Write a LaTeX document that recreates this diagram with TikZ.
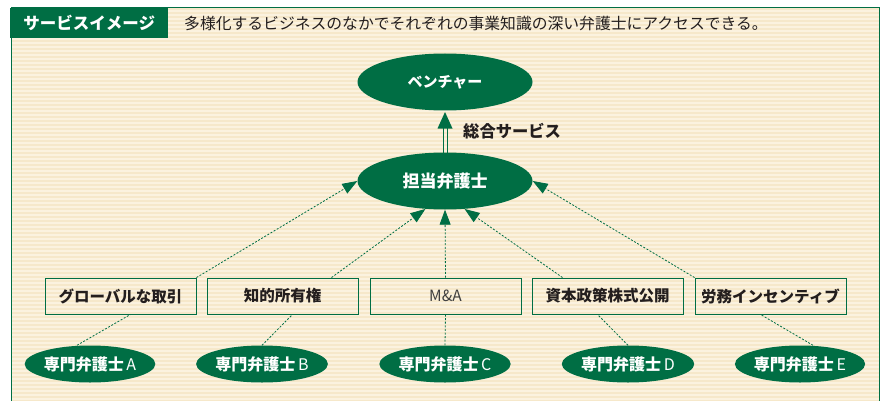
\documentclass[tikz,border=0pt]{standalone}
\usepackage{fontspec}
\setmainfont{Noto Sans CJK JP}
\usetikzlibrary{arrows.meta,shapes.geometric}
\definecolor{mygreen}{RGB}{0,110,68}
\definecolor{cream}{RGB}{246,232,202}
\definecolor{stripe}{RGB}{255,250,238}
\definecolor{txt}{RGB}{35,30,30}
\tikzset{
  bigell/.style={ellipse,fill=mygreen,text=white,minimum width=175pt,minimum height=57pt,inner sep=0pt,font=\fontsize{16}{16}\selectfont\bfseries},
  smallell/.style={ellipse,fill=mygreen,text=white,minimum width=114pt,minimum height=37pt,inner sep=0pt,font=\fontsize{16}{16}\selectfont},
  topicbox/.style={draw=mygreen,line width=0.9pt,minimum width=151pt,minimum height=36pt,inner sep=0pt,text=txt,font=\fontsize{15.5}{15.5}\selectfont\bfseries},
  dashconn/.style={mygreen,line width=0.8pt,dash pattern=on 2pt off 1.6pt},
  dasharrow/.style={dashconn,-{Triangle[length=15pt,width=11pt]}},
}
\begin{document}
\begin{tikzpicture}[x=1pt,y=-1pt]
\useasboundingbox (0,0) rectangle (885,401);
% background
\fill[cream] (11,8) rectangle (879,401);
\foreach \yy in {10,14,...,400} {\fill[stripe,opacity=0.6] (11,\yy) rectangle (879,\yy+1.8);}
\draw[mygreen,line width=1pt] (11,405) -- (11,8) -- (879,8) -- (879,405);
% header
\node[fill=mygreen,text=white,minimum width=158pt,minimum height=30pt,inner sep=0pt,anchor=north west,font=\fontsize{16.5}{16.5}\selectfont\bfseries] (hdr) at (10,8) {サービスイメージ};
\node[anchor=west,text=txt,inner sep=0pt,font=\fontsize{15.8}{15.8}\selectfont] (htext) at (184,23) {多様化するビジネスのなかでそれぞれの事業知識の深い弁護士にアクセスできる。};
% main ellipses
\node[bigell,font=\fontsize{15}{15}\selectfont\bfseries] (venture) at (445,82) {ベンチャー};
\node[bigell,font=\fontsize{17}{17}\selectfont\bfseries] (tanto) at (445,181) {担当弁護士};
% double arrow
\draw[mygreen,line width=0.8pt] (443,153) -- (443,127) (447,153) -- (447,127);
\fill[mygreen] (445,112) -- (452.5,128.5) -- (437.5,128.5) -- cycle;
\node[anchor=west,text=txt,inner sep=0pt,font=\fontsize{16.3}{16.3}\selectfont\bfseries] (sogo) at (463,131) {総合サービス};
% topic boxes
\node[topicbox] (b1) at (120.5,296) {グローバルな取引};
\node[topicbox] (b2) at (282.5,296) {知的所有権};
\node[topicbox,font=\fontsize{15.5}{15.5}\selectfont,text=black!75] (b3) at (445.5,296) {M\&A};
\node[topicbox] (b4) at (607.5,296) {資本政策株式公開};
\node[topicbox] (b5) at (770.5,296) {労務インセンティブ};
% specialists
\node[smallell] (sA) at (90,364) {\textbf{専門弁護士}\,A};
\node[smallell] (sB) at (262,364) {\textbf{専門弁護士}\,B};
\node[smallell] (sC) at (445,364) {\textbf{専門弁護士}\,C};
\node[smallell] (sD) at (628,364) {\textbf{専門弁護士}\,D};
\node[smallell] (sE) at (800,364) {\textbf{専門弁護士}\,E};
% arrows to tanto
\draw[dasharrow] (b1.north east) -- (tanto.180);
\draw[dasharrow] ([xshift=49pt]b2.north) -- (tanto.235);
\draw[dasharrow] (b3.north) -- (tanto.south);
\draw[dasharrow] ([xshift=-45pt]b4.north) -- (tanto.305);
\draw[dasharrow] (b5.north west) -- (tanto.0);
% lines specialists to boxes
\draw[dashconn] ([xshift=-13pt]sA.north) -- ([xshift=10pt]b1.south);
\draw[dashconn] (sB.north) -- ([xshift=10pt]b2.south);
\draw[dashconn] (sC.north) -- (b3.south);
\draw[dashconn] (sD.north) -- ([xshift=-10pt]b4.south);
\draw[dashconn] ([xshift=13pt]sE.north) -- ([xshift=-10pt]b5.south);
\end{tikzpicture}
\end{document}
